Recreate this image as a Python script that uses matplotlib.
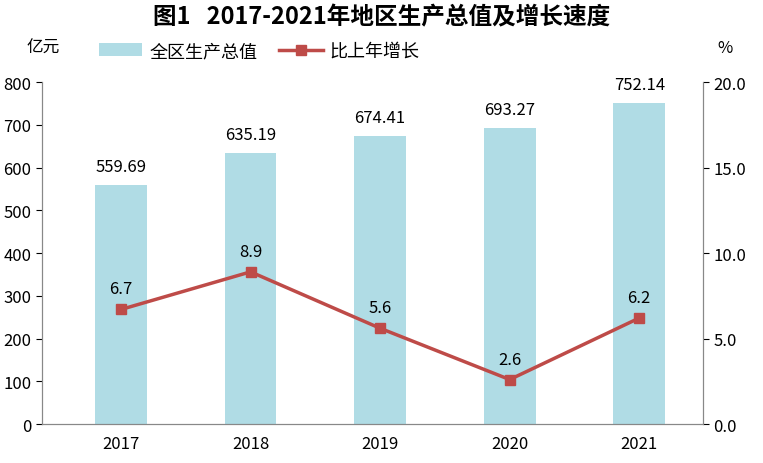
import matplotlib
matplotlib.use("Agg")
import matplotlib.pyplot as plt

plt.rcParams['font.family'] = ['Noto Sans CJK SC', 'DejaVu Sans']

years = ["2017", "2018", "2019", "2020", "2021"]
gdp = [559.69, 635.19, 674.41, 693.27, 752.14]
growth = [6.7, 8.9, 5.6, 2.6, 6.2]

BAR_COLOR = "#B0DCE5"
LINE_COLOR = "#BE4B48"

fig = plt.figure(figsize=(7.63, 4.64), dpi=100)
ax = fig.add_axes([0.055, 0.084, 0.866, 0.737])
x = list(range(len(years)))
bars = ax.bar(x, gdp, width=0.4, color=BAR_COLOR, label="全区生产总值", zorder=1)
ax.set_ylim(0, 800)
ax.set_xlim(-0.61, 4.49)
ax.set_xticks(x)
ax.set_xticklabels(years, fontsize=12)
ax.tick_params(axis='y', labelsize=12, direction='out', length=4)
ax.tick_params(axis='x', length=0, pad=8)
for xi, v in zip(x, gdp):
    ax.text(xi, v + 22, f"{v:.2f}", ha='center', va='bottom', fontsize=12)

ax2 = ax.twinx()
line, = ax2.plot(x, growth, color=LINE_COLOR, lw=2.5, marker='s', markersize=7,
                 label="比上年增长", zorder=3)
ax2.set_ylim(0, 20)
ax2.set_yticks([0, 5, 10, 15, 20])
ax2.set_yticklabels([f"{t:.1f}" for t in [0, 5, 10, 15, 20]])
ax2.tick_params(axis='y', labelsize=12, direction='out', length=4)
for xi, v in zip(x, growth):
    ax2.text(xi, v + 0.7, f"{v}", ha='center', va='bottom', fontsize=12)

for a in (ax, ax2):
    a.spines["top"].set_visible(False)
    for s in ("left", "right", "bottom"):
        a.spines[s].set_color("#888888")

fig.text(0.5, 0.962, "图1   2017-2021年地区生产总值及增长速度", ha='center', va='center',
         fontsize=17, fontweight='bold')
fig.text(0.035, 0.895, "亿元", ha='left', va='center', fontsize=12)
fig.text(0.94, 0.895, "%", ha='left', va='center', fontsize=12)
fig.legend([bars, line], ["全区生产总值", "比上年增长"], loc='center',
           bbox_to_anchor=(0.34, 0.888), ncol=2, frameon=False, fontsize=13,
           handlelength=2.4, columnspacing=1.2, handletextpad=0.4)

fig.savefig("out.png", dpi=100)
